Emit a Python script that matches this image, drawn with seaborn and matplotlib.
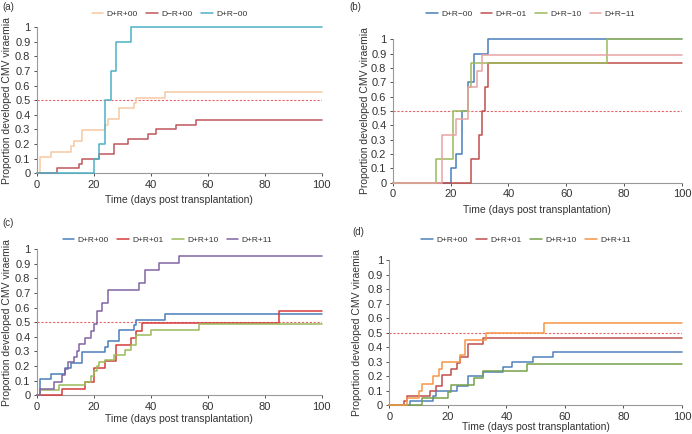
import pandas as pd
import matplotlib.pyplot as plt
import seaborn as sns
import numpy as np

# panel (a)
a_labels = ['D+R+00', 'D\u2212R+00', 'D+R\u221200']
a_x1 = [0, 1, 5, 12, 13, 16, 24, 25, 29, 34, 35, 45, 100]
a_y1 = [0, 0.111, 0.148, 0.185, 0.222, 0.296, 0.333, 0.370, 0.444, 0.481, 0.519, 0.556, 0.556]
a_x2 = [0, 7, 15, 16, 22, 27, 32, 39, 42, 49, 56, 100]
a_y2 = [0, 0.033, 0.067, 0.100, 0.133, 0.200, 0.233, 0.267, 0.300, 0.333, 0.367, 0.367]
a_x3 = [0, 20, 22, 24, 26, 28, 33, 100]
a_y3 = [0, 0.1, 0.2, 0.5, 0.7, 0.9, 1.0, 1.0]

# panel (b)
b_labels = ['D+R\u221200', 'D+R\u221201', 'D+R\u221210', 'D+R\u221211']
b_x1 = [0, 20, 22, 24, 26, 28, 33, 100]
b_y1 = [0, 0.1, 0.2, 0.5, 0.7, 0.9, 1.0, 1.0]
b_x2 = [0, 27, 30, 31, 32, 33, 100]
b_y2 = [0, 0.167, 0.333, 0.5, 0.667, 0.833, 0.833]
b_x3 = [0, 15, 21, 26, 27, 74, 100]
b_y3 = [0, 0.167, 0.5, 0.667, 0.833, 1.0, 1.0]
b_x4 = [0, 17, 22, 26, 29, 31, 100]
b_y4 = [0, 0.333, 0.444, 0.667, 0.778, 0.889, 0.889]

# panel (c)
c_labels = ['D+R+00', 'D+R+01', 'D+R+10', 'D+R+11']
c_x1 = [0, 1, 5, 10, 12, 16, 24, 25, 29, 34, 35, 45, 100]
c_y1 = [0, 0.111, 0.148, 0.185, 0.222, 0.296, 0.333, 0.370, 0.444, 0.481, 0.519, 0.556, 0.556]
c_x2 = [0, 9, 17, 20, 24, 28, 33, 35, 37, 85, 100]
c_y2 = [0, 0.045, 0.090, 0.185, 0.237, 0.345, 0.390, 0.440, 0.495, 0.575, 0.575]
c_x3 = [0, 1, 8, 17, 19, 20, 21, 22, 24, 27, 31, 33, 35, 40, 57, 100]
c_y3 = [0, 0.034, 0.069, 0.090, 0.130, 0.165, 0.200, 0.225, 0.240, 0.275, 0.310, 0.345, 0.410, 0.450, 0.490, 0.490]
c_x4 = [0, 1, 6, 9, 10, 11, 13, 14, 15, 17, 19, 20, 21, 23, 25, 36, 38, 43, 50, 100]
c_y4 = [0, 0.045, 0.091, 0.136, 0.182, 0.227, 0.264, 0.305, 0.350, 0.395, 0.440, 0.490, 0.580, 0.630, 0.720,
        0.770, 0.860, 0.905, 0.955, 0.955]

# panel (d)
d_labels = ['D+R+00', 'D+R+01', 'D+R+10', 'D+R+11']
d_x1 = [0, 7, 15, 16, 23, 27, 32, 39, 42, 49, 56, 100]
d_y1 = [0, 0.033, 0.067, 0.100, 0.133, 0.200, 0.233, 0.267, 0.300, 0.333, 0.367, 0.367]
d_x2 = [0, 5, 6, 14, 16, 18, 21, 23, 24, 27, 32, 100]
d_y2 = [0, 0.033, 0.066, 0.100, 0.133, 0.210, 0.250, 0.290, 0.330, 0.420, 0.462, 0.462]
d_x3 = [0, 11, 20, 21, 29, 32, 47, 100]
d_y3 = [0, 0.048, 0.095, 0.143, 0.190, 0.238, 0.286, 0.286]
d_x4 = [0, 6, 10, 11, 15, 17, 18, 24, 26, 33, 53, 100]
d_y4 = [0, 0.05, 0.10, 0.15, 0.20, 0.25, 0.30, 0.35, 0.45, 0.50, 0.567, 0.567]

a_cols = ['#f6c9a0', '#c0565c', '#4bb0c6']
b_cols = ['#4a7ebb', '#c0504d', '#9bbb59', '#e8a3a3']
c_cols = ['#4a7ebb', '#d63c3c', '#9bbb59', '#8064a2']
d_cols = ['#4f81bd', '#c0504d', '#77a04a', '#f79646']

sns.set_style('white')
plt.rcParams['font.family'] = ['Liberation Sans', 'DejaVu Sans']

fig = plt.figure(figsize=(6.92, 4.34), dpi=100)

panels = [
    ('(a)', [0.053, 0.6007, 0.4119, 0.3364], a_labels, [(a_x1, a_y1), (a_x2, a_y2), (a_x3, a_y3)], a_cols,
     (0.245, 0.968), (-0.087, -0.149), (0.003, 0.985)),
    ('(b)', [0.5675, 0.579, 0.418, 0.3304], b_labels, [(b_x1, b_y1), (b_x2, b_y2), (b_x3, b_y3), (b_x4, b_y4)], b_cols,
     (0.767, 0.968), (-0.077, -0.155), (0.505, 0.985)),
    ('(c)', [0.053, 0.0892, 0.4119, 0.3364], c_labels, [(c_x1, c_y1), (c_x2, c_y2), (c_x3, c_y3), (c_x4, c_y4)], c_cols,
     (0.242, 0.447), (-0.087, -0.128), (0.003, 0.486)),
    ('(d)', [0.5626, 0.0661, 0.423, 0.3341], d_labels, [(d_x1, d_y1), (d_x2, d_y2), (d_x3, d_y3), (d_x4, d_y4)], d_cols,
     (0.760, 0.447), (-0.093, -0.115), (0.509, 0.466)),
]

for tag, rect, labels, series, cols, leg_xy, lab_xy, tag_xy in panels:
    ax = fig.add_axes(rect)
    rows = []
    for lab, (xs, ys) in zip(labels, series):
        rows.append(pd.DataFrame({'day': xs, 'prop': ys, 'group': lab}))
    df = pd.concat(rows, ignore_index=True)
    ax.axhline(0.5, color='#e8646a', lw=0.8, ls=(0, (2, 1.5)), zorder=1)
    sns.lineplot(data=df, x='day', y='prop', hue='group', hue_order=labels,
                 palette=dict(zip(labels, cols)), estimator=None, drawstyle='steps-post',
                 lw=1.1, ax=ax, legend=False, clip_on=False, zorder=3)
    ax.set_xlim(0, 100)
    ax.set_ylim(0, 1)
    ax.set_xticks(np.arange(0, 101, 20))
    ax.set_yticks(np.arange(0, 1.01, 0.1))
    ax.set_yticklabels(['0'] + [f'{v:.1f}' for v in np.arange(0.1, 0.95, 0.1)] + ['1'])
    ax.tick_params(labelsize=8, colors='#333333', length=2.5, width=0.6, pad=2, direction='out',
                   bottom=True, left=True)
    for s in ['top', 'right']:
        ax.spines[s].set_visible(False)
    for s in ['left', 'bottom']:
        ax.spines[s].set_color('#999999')
        ax.spines[s].set_linewidth(0.8)
    ax.set_xlabel('Time (days post transplantation)', fontsize=7.5, color='#333333')
    ax.set_ylabel('Proportion developed CMV viraemia', fontsize=7.5, color='#333333')
    ax.yaxis.set_label_coords(lab_xy[0], 0.5)
    ax.xaxis.set_label_coords(0.5, lab_xy[1])
    handles = [plt.Line2D([], [], color=c, lw=1.1) for c in cols]
    ax.legend(handles, labels, loc='center', bbox_to_anchor=leg_xy, bbox_transform=fig.transFigure,
              ncol=len(labels), frameon=False, fontsize=6, handlelength=1.4, columnspacing=1.0,
              handletextpad=0.4, labelcolor='#333333')
    fig.text(tag_xy[0], tag_xy[1], tag, fontsize=7, color='#333333', va='center', ha='left')

plt.savefig('out.png', dpi=100)
